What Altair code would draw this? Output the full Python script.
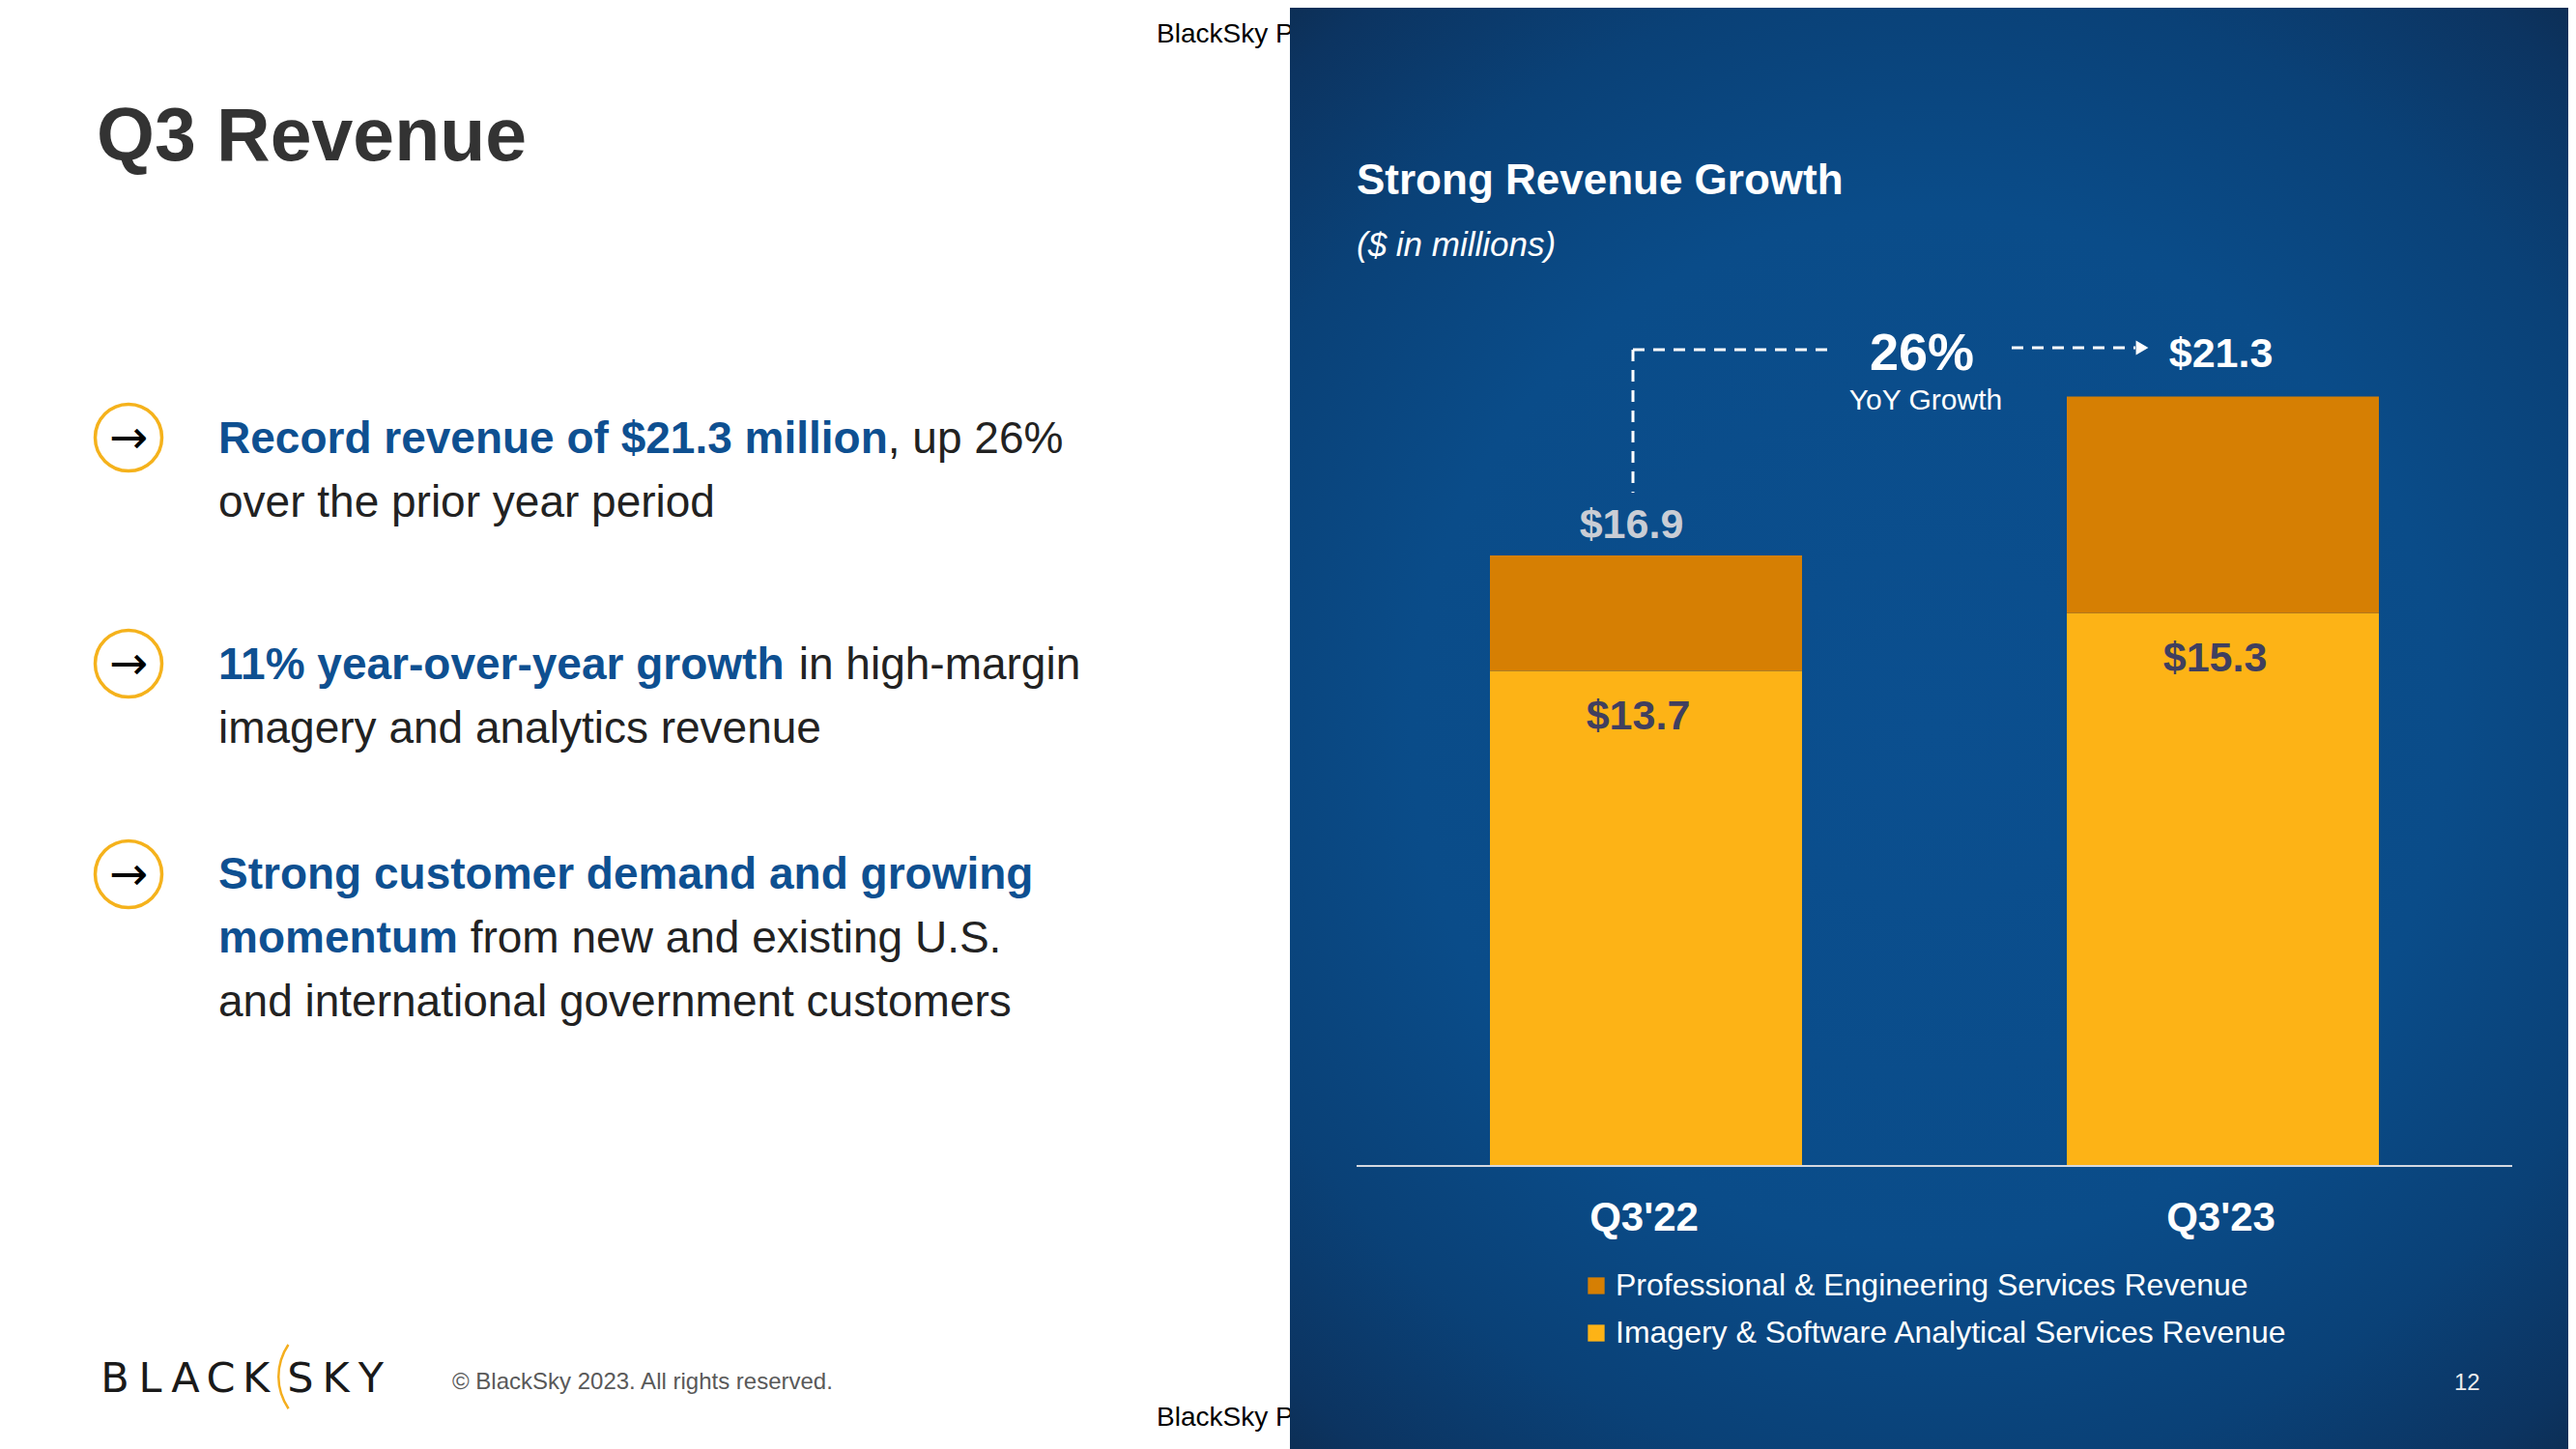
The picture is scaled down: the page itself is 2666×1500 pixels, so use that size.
import altair as alt
import pandas as pd

# ---------------- data ----------------
quarters = ["Q3'22", "Q3'23"]
imagery_rev = [13.7, 15.3]
professional_rev = [3.2, 6.0]
total_rev = [16.9, 21.3]
series = ["Professional & Engineering Services Revenue",
          "Imagery & Software Analytical Services Revenue"]
series_colors = ["#D67F03", "#FDB316"]
growth_text = "26%"
growth_caption = "YoY Growth"
slide_title = "Q3 Revenue"
panel_title = "Strong Revenue Growth"
panel_subtitle = "($ in millions)"
bullet_lines = [
    [("Record revenue of $21.3 million", True), (", up 26%", False)],
    [("over the prior year period", False)],
    [("11% year-over-year growth", True), ("in high-margin", False)],
    [("imagery and analytics revenue", False)],
    [("Strong customer demand and growing", True)],
    [("momentum", True), ("from new and existing U.S.", False)],
    [("and international government customers", False)],
]
footer_text = "© BlackSky 2023. All rights reserved."
marking_text = "BlackSky Proprietary"
page_number = "12"
logo_left, logo_right = "BLACK", "SKY"

# ---------------- layout helpers ----------------
W, H = 2650, 1492
OFF = 8
def px(x):
    return x - OFF
def py(y):
    return y - OFF

FONT = "Liberation Sans"
BLUE_TXT = "#0E5091"
DARK_TXT = "#222222"

BOLD_W = {' ': 278, '$': 556, '%': 889, '-': 333, '.': 278, ',': 278, '1': 556, '2': 556,
          '3': 556, 'R': 722, 'S': 667, 'a': 556, 'c': 556, 'd': 611, 'e': 556, 'f': 333,
          'g': 611, 'h': 611, 'i': 278, 'l': 278, 'm': 889, 'n': 611, 'o': 611, 'r': 389,
          's': 556, 't': 333, 'u': 611, 'v': 556, 'w': 778, 'y': 556}
def bold_width(s, size):
    return sum(BOLD_W.get(c, 556) for c in s) * size / 1000.0

ONE = alt.Data(values=[{"k": 0}])

def txt(s, x, y, size, color, weight="normal", font=FONT, style="normal", align="left"):
    return alt.Chart(ONE).mark_text(
        text=s, font=font, fontSize=size, fontWeight=weight, fontStyle=style,
        color=color, align=align, baseline="alphabetic"
    ).encode(x=alt.value(px(x)), y=alt.value(py(y)))

layers = []

# proprietary marking (partly covered by the blue panel, as on the slide)
layers.append(txt(marking_text, 1197, 44, 28, "#000000"))
layers.append(txt(marking_text, 1197, 1476, 28, "#000000"))

# blue panel with radial vignette
panel_fill = alt.RadialGradient(
    gradient="radial",
    stops=[alt.GradientStop(offset=0.0, color="#0B4F8F"),
           alt.GradientStop(offset=0.5, color="#0A4C89"),
           alt.GradientStop(offset=0.72, color="#0A4177"),
           alt.GradientStop(offset=0.88, color="#0C3461"),
           alt.GradientStop(offset=1.0, color="#0D2745")],
    x1=0.5, y1=0.5, r1=0, x2=0.5, y2=0.5, r2=0.72)
layers.append(alt.Chart(ONE).mark_rect(fill=panel_fill).encode(
    x=alt.value(px(1335)), x2=alt.value(W), y=alt.value(0), y2=alt.value(H)))

# slide title
layers.append(txt(slide_title, 100, 166, 77, "#333333", weight="bold"))

# bullets
TS = 46
bullet_baselines = [469, 535, 703, 769, 920, 986, 1052]
for cy in [453, 687, 905]:
    layers.append(alt.Chart(ONE).mark_point(
        shape="circle", size=69 * 69, filled=False, color="#F5B21C",
        strokeWidth=3.5, opacity=1).encode(x=alt.value(px(133)), y=alt.value(py(cy))))
    layers.append(txt("→", 133, cy + 16, 48, "#000000", font="DejaVu Sans", align="center"))

for line, base in zip(bullet_lines, bullet_baselines):
    x = 226
    for k, (seg, is_bold) in enumerate(line):
        if is_bold:
            layers.append(txt(seg, x, base, TS, BLUE_TXT, weight="bold"))
            x += bold_width(seg, TS)
        else:
            if k > 0 and not seg.startswith(","):
                x += 0.278 * TS
            layers.append(txt(seg, x, base, TS, DARK_TXT))

# footer: logo (letter-spaced) + copyright
for i, ch in enumerate(logo_left):
    layers.append(txt(ch, 119 + i * 36.5, 1441, 43, "#1A1A1A", font="DejaVu Sans", align="center"))
for i, ch in enumerate(logo_right):
    layers.append(txt(ch, 311 + i * 36.5, 1441, 43, "#1A1A1A", font="DejaVu Sans", align="center"))
layers.append(alt.Chart(ONE).mark_arc(
    innerRadius=57.5, outerRadius=60, theta=4.11, theta2=5.31, color="#F4AE1E").encode(
    x=alt.value(px(347)), y=alt.value(py(1425))))
layers.append(txt(footer_text, 468, 1438, 24, "#595959"))

# panel texts
layers.append(txt(panel_title, 1404, 201, 44, "#FFFFFF", weight="bold"))
layers.append(txt(panel_subtitle, 1404, 265, 35, "#FFFFFF", style="italic"))
layers.append(txt(page_number, 2540, 1439, 24, "#EDEDED"))

# ---------------- bar chart ----------------
x_scale = alt.Scale(domain=quarters, range=[px(1542), px(2462)],
                    paddingInner=0.459, paddingOuter=0)
y_scale = alt.Scale(domain=[0, 25], range=[py(1207), py(1207) - 37.4 * 25],
                    nice=False, zero=True)

bars_df = pd.DataFrame({
    "quarter": quarters * 2,
    "series": [series[1]] * 2 + [series[0]] * 2,
    "value": imagery_rev + professional_rev,
})
totals_df = pd.DataFrame({"quarter": quarters, "total": total_rev, "imagery": imagery_rev})

X = alt.X("quarter:N", scale=x_scale, axis=None)
Xc = alt.X("quarter:N", scale=x_scale, axis=None, bandPosition=0.5)

bars = alt.Chart(bars_df).mark_bar().encode(
    x=X,
    y=alt.Y("value:Q", stack="zero", scale=y_scale, axis=None),
    color=alt.Color("series:N", scale=alt.Scale(domain=series, range=series_colors),
                    legend=alt.Legend(title=None, orient="none",
                                      legendX=px(1636), legendY=py(1331) - 16,
                                      symbolType="square", symbolSize=300,
                                      symbolStrokeWidth=0, labelFont=FONT,
                                      labelFontSize=32, labelColor="#FFFFFF",
                                      labelOffset=4, rowPadding=17, padding=0,
                                      labelLimit=2000)),
    order=alt.Order("series:N", sort="ascending"),
)
layers.append(bars)

# baseline
layers.append(alt.Chart(ONE).mark_rule(color="#D4D8E0", strokeWidth=2).encode(
    x=alt.value(px(1404)), x2=alt.value(px(2600)), y=alt.value(py(1207))))

# category labels
layers.append(alt.Chart(totals_df).mark_text(
    font=FONT, fontSize=42, fontWeight="bold", color="#FFFFFF", baseline="alphabetic", dx=-2
).encode(x=Xc, y=alt.value(py(1274)), text="quarter:N"))

# total labels
tot_base = alt.Chart(totals_df).transform_calculate(lbl="'$' + format(datum.total, '.1f')")
layers.append(tot_base.transform_filter(alt.datum.quarter == quarters[0]).mark_text(
    font=FONT, fontSize=43, fontWeight="bold", color="#C9CDD5", baseline="alphabetic",
    dy=-18, dx=-15).encode(x=Xc, y=alt.Y("total:Q", scale=y_scale, axis=None), text="lbl:N"))
layers.append(tot_base.transform_filter(alt.datum.quarter == quarters[1]).mark_text(
    font=FONT, fontSize=43, fontWeight="bold", color="#FFFFFF", baseline="alphabetic",
    dy=-30, dx=-2).encode(x=Xc, y=alt.Y("total:Q", scale=y_scale, axis=None), text="lbl:N"))

# imagery labels inside bars
layers.append(alt.Chart(totals_df).transform_calculate(
    lbl="'$' + format(datum.imagery, '.1f')").mark_text(
    font=FONT, fontSize=43, fontWeight="bold", color="#403F5F", baseline="alphabetic",
    dy=60, dx=-8).encode(x=Xc, y=alt.Y("imagery:Q", scale=y_scale, axis=None), text="lbl:N"))

# growth annotation
dash = [12, 9]
layers.append(alt.Chart(ONE).mark_rule(color="#FFFFFF", strokeWidth=3, strokeDash=dash).encode(
    x=alt.value(px(1690)), y=alt.value(py(362)), y2=alt.value(py(510))))
layers.append(alt.Chart(ONE).mark_rule(color="#FFFFFF", strokeWidth=3, strokeDash=dash).encode(
    x=alt.value(px(1690)), x2=alt.value(px(1900)), y=alt.value(py(362))))
layers.append(alt.Chart(ONE).mark_rule(color="#FFFFFF", strokeWidth=3, strokeDash=dash).encode(
    x=alt.value(px(2082)), x2=alt.value(px(2210)), y=alt.value(py(360))))
layers.append(alt.Chart(ONE).mark_point(shape="triangle-right", size=220, filled=True,
                                        color="#FFFFFF", opacity=1).encode(
    x=alt.value(px(2217)), y=alt.value(py(360))))
layers.append(txt(growth_text, 1989, 383, 54, "#FFFFFF", weight="bold", align="center"))
layers.append(txt(growth_caption, 1993, 424, 30, "#FFFFFF", align="center"))

chart = alt.layer(*layers).properties(
    width=W, height=H, padding=0,
    autosize=alt.AutoSizeParams(type="none"),
    background="#FFFFFF",
).configure_view(stroke=None)

chart.save("out.html", embed_options={"renderer": "svg", "actions": False})
